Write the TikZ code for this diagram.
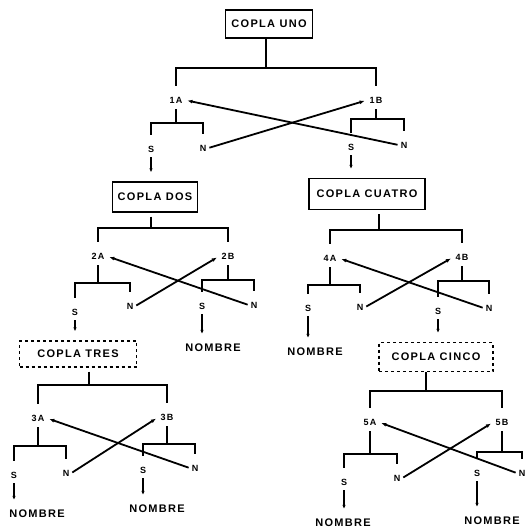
\documentclass[tikz,border=0pt]{standalone}
\usepackage{fontspec}
\setmainfont{Liberation Sans}
\newfontfamily\rotulo[LetterSpace=12]{Liberation Sans}
\usetikzlibrary{arrows.meta}

\begin{document}
\begin{tikzpicture}[x=1pt,y=-1pt,
    caja/.style={draw,line width=1.3pt,font=\rotulo\bfseries\fontsize{11}{12}\selectfont,inner sep=0pt},
    cajad/.style={caja,dashed},
    etq/.style={font=\rotulo\bfseries\fontsize{9}{10}\selectfont,inner sep=2pt},
    fin/.style={font=\rotulo\bfseries\fontsize{11}{12}\selectfont,inner sep=1pt},
    linea/.style={line width=1.6pt},
    pata/.style={linea,shorten <=9pt,shorten >=9pt},
    tallo/.style={linea,shorten <=4pt},
    baja/.style={linea,-{Latex[length=4pt,width=3.5pt]},shorten <=3pt,shorten >=9pt},
    cruz/.style={line width=1.8pt,-{Latex[length=5pt,width=4pt]},shorten <=1pt,shorten >=3pt}]
    \useasboundingbox (0,0) rectangle (528,529);

    % copla uno
    \node[caja,minimum width=87pt,minimum height=28pt] (uno) at (269,24) {COPLA UNO};
    \coordinate (j1) at (266,68);
    \node[etq] (a1) at (176,100) {1A};
    \node[etq] (b1) at (376,100) {1B};
    \draw[linea] (j1 |- uno.south) -- (j1);
    \draw[pata] (a1) |- (j1) -| (b1);
    \coordinate (ka1) at (a1 |- 0,123);
    \node[etq] (sa1) at (151,149) {S};
    \node[etq] (na1) at (203,148) {N};
    \draw[tallo] (a1) -- (ka1);
    \draw[pata] (sa1) |- (ka1) -| (na1);
    \coordinate (kb1) at (b1 |- 0,119);
    \node[etq] (sb1) at (351,147) {S};
    \node[etq] (nb1) at (404,145) {N};
    \draw[tallo] (b1) -- (kb1);
    \draw[pata] (sb1) |- (kb1) -| (nb1);
    \draw[cruz] (na1.east) -- (b1.west);
    \draw[cruz] (nb1.west) -- (a1.east);

    % copla dos
    \node[caja,minimum width=85pt,minimum height=30pt] (dos) at (155,197) {COPLA DOS};
    \draw[baja] (sa1) -- (sa1 |- dos.north);
    \coordinate (j2) at (151,228);
    \node[etq] (a2) at (98,256) {2A};
    \node[etq] (b2) at (228,256) {2B};
    \draw[tallo] (j2 |- dos.south) -- (j2);
    \draw[pata] (a2) |- (j2) -| (b2);
    \coordinate (ka2) at (a2 |- 0,283);
    \node[etq] (sa2) at (75,312) {S};
    \node[etq] (na2) at (130,306) {N};
    \draw[tallo] (a2) -- (ka2);
    \draw[pata] (sa2) |- (ka2) -| (na2);
    \coordinate (kb2) at (b2 |- 0,280);
    \node[etq] (sb2) at (202,306) {S};
    \node[etq] (nb2) at (254,305) {N};
    \draw[tallo] (b2) -- (kb2);
    \draw[pata] (sb2) |- (kb2) -| (nb2);
    \draw[cruz] (na2.east) -- (b2.west);
    \draw[cruz] (nb2.west) -- (a2.east);
    \node[fin] (nom2) at (213,348) {NOMBRE};
    \draw[baja] (sb2) -- (sb2 |- nom2.north);

    % copla tres
    \node[cajad,minimum width=117pt,minimum height=26pt] (tres) at (78,354) {COPLA TRES};
    \draw[baja] (sa2) -- (sa2 |- tres.north);
    \coordinate (j3) at (89,385);
    \node[etq] (a3) at (38,418) {3A};
    \node[etq] (b3) at (167,417) {3B};
    \draw[tallo] (j3 |- tres.south) -- (j3);
    \draw[pata] (a3) |- (j3) -| (b3);
    \coordinate (ka3) at (a3 |- 0,446);
    \node[etq] (sa3) at (14,475) {S};
    \node[etq] (na3) at (66,473) {N};
    \draw[tallo] (a3) -- (ka3);
    \draw[pata] (sa3) |- (ka3) -| (na3);
    \coordinate (kb3) at (b3 |- 0,444);
    \node[etq] (sb3) at (143,470) {S};
    \node[etq] (nb3) at (195,468) {N};
    \draw[tallo] (b3) -- (kb3);
    \draw[pata] (sb3) |- (kb3) -| (nb3);
    \draw[cruz] (na3.east) -- (b3.west);
    \draw[cruz] (nb3.west) -- (a3.east);
    \node[fin] (nom3a) at (37,514) {NOMBRE};
    \node[fin] (nom3b) at (157,509) {NOMBRE};
    \draw[baja] (sa3) -- (sa3 |- nom3a.north);
    \draw[baja] (sb3) -- (sb3 |- nom3b.north);

    % copla cuatro
    \node[caja,minimum width=116pt,minimum height=31pt] (cuatro) at (367,194) {COPLA CUATRO};
    \draw[baja] (sb1) -- (sb1 |- cuatro.north);
    \coordinate (j4) at (379,230);
    \node[etq] (a4) at (330,258) {4A};
    \node[etq] (b4) at (462,257) {4B};
    \draw[tallo] (j4 |- cuatro.south) -- (j4);
    \draw[pata] (a4) |- (j4) -| (b4);
    \coordinate (ka4) at (a4 |- 0,285);
    \node[etq] (sa4) at (308,308) {S};
    \node[etq] (na4) at (360,307) {N};
    \draw[tallo] (a4) -- (ka4);
    \draw[pata] (sa4) |- (ka4) -| (na4);
    \coordinate (kb4) at (b4 |- 0,281);
    \node[etq] (sb4) at (438,311) {S};
    \node[etq] (nb4) at (489,308) {N};
    \draw[tallo] (b4) -- (kb4);
    \draw[pata] (sb4) |- (kb4) -| (nb4);
    \draw[cruz] (na4.east) -- (b4.west);
    \draw[cruz] (nb4.west) -- (a4.east);
    \node[fin] (nom4) at (315,352) {NOMBRE};
    \draw[baja] (sa4) -- (sa4 |- nom4.north);

    % copla cinco
    \node[cajad,minimum width=114pt,minimum height=29pt] (cinco) at (436,357) {COPLA CINCO};
    \draw[baja] (sb4) -- (sb4 |- cinco.north);
    \coordinate (j5) at (426,391);
    \node[etq] (a5) at (370,422) {5A};
    \node[etq] (b5) at (502,422) {5B};
    \draw[linea] (j5 |- cinco.south) -- (j5);
    \draw[pata] (a5) |- (j5) -| (b5);
    \coordinate (ka5) at (a5 |- 0,454);
    \node[etq] (sa5) at (344,482) {S};
    \node[etq] (na5) at (397,478) {N};
    \draw[tallo] (a5) -- (ka5);
    \draw[pata] (sa5) |- (ka5) -| (na5);
    \coordinate (kb5) at (b5 |- 0,452);
    \node[etq] (sb5) at (477,473) {S};
    \node[etq] (nb5) at (522,473) {N};
    \draw[tallo] (b5) -- (kb5);
    \draw[pata] (sb5) |- (kb5) -| (nb5);
    \draw[cruz] (na5.east) -- (b5.west);
    \draw[cruz] (nb5.west) -- (a5.east);
    \node[fin] (nom5a) at (343,523) {NOMBRE};
    \node[fin] (nom5b) at (492,521) {NOMBRE};
    \draw[baja] (sa5) -- (sa5 |- nom5a.north);
    \draw[baja] (sb5) -- (sb5 |- nom5b.north);
\end{tikzpicture}
\end{document}
